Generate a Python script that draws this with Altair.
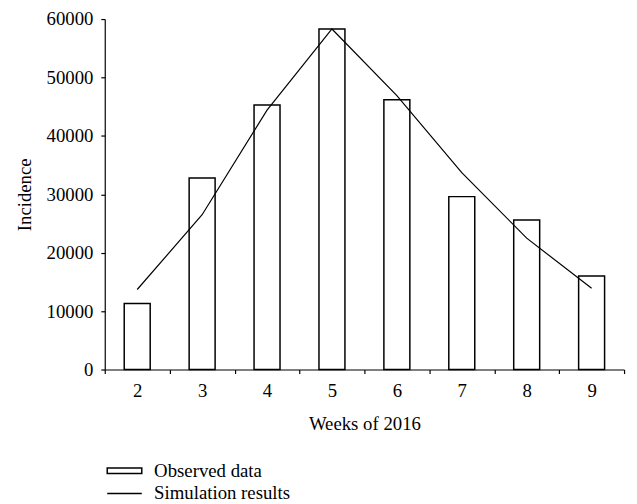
import altair as alt
import pandas as pd

weeks = ["2", "3", "4", "5", "6", "7", "8", "9"]
observed = [11300, 32800, 45300, 58300, 46200, 29600, 25600, 16000]
simulated = [13700, 26500, 44400, 58300, 46900, 33700, 22500, 13900]
series = ["Observed data", "Simulation results"]
y_ticks = [0, 10000, 20000, 30000, 40000, 50000, 60000]

df = pd.DataFrame({"week": weeks, "observed": observed, "simulated": simulated})
leg = pd.DataFrame({"series": series})

FONT = "Liberation Serif"
FS = 19

x_enc = alt.X(
    "week:O",
    sort=weeks,
    title="Weeks of 2016",
    scale=alt.Scale(type="band", paddingInner=0, paddingOuter=0),
    axis=alt.Axis(labelAngle=0, tickBand="extent", tickSize=4, labelPadding=8,
                  titlePadding=15),
)
y_scale = alt.Scale(domain=[0, 60000], nice=False)
y_axis = alt.Axis(values=y_ticks, format="d", grid=False, title="Incidence", tickSize=4,
                  labelPadding=8, titlePadding=12)

bars = alt.Chart(df).mark_bar(
    fill="white", stroke="black", strokeWidth=1.5,
    width=alt.RelativeBandSize(0.4)
).encode(
    x=x_enc,
    y=alt.Y("observed:Q", scale=y_scale, axis=y_axis),
)

line = alt.Chart(df).mark_line(color="black", strokeWidth=1.2).encode(
    x=x_enc,
    y=alt.Y("simulated:Q", scale=y_scale, axis=y_axis),
)

legend_layer = alt.Chart(leg).mark_point(size=0, filled=False, color="black").encode(
    shape=alt.Shape(
        "series:N",
        sort=series,
        scale=alt.Scale(domain=series,
                        range=["M-3.5,-0.55H3.5V0.55H-3.5Z", "M-3.5,0H3.5"]),
        legend=alt.Legend(
            title=None, orient="none", legendX=10.5, legendY=448,
            symbolSize=100, symbolStrokeColor="black", symbolFillColor="white",
            symbolStrokeWidth=1.5, symbolOpacity=1,
            labelFont=FONT, labelFontSize=FS, labelColor="black",
            labelOffset=20.5, rowPadding=3, padding=0,
        ),
    )
)

chart = alt.layer(bars, line, legend_layer).properties(
    width=526, height=355,
    autosize=alt.AutoSizeParams(type="none"),
    padding={"left": 98, "top": 8, "right": 5, "bottom": 133},
).configure_view(stroke=None).configure_axis(
    domainColor="black", tickColor="black", labelColor="black", titleColor="black",
    labelFont=FONT, titleFont=FONT, labelFontSize=FS, titleFontSize=FS,
    titleFontWeight="normal", domainWidth=1.2, tickWidth=1.2,
)

chart.save("out.html", embed_options={"renderer": "svg", "actions": False})
